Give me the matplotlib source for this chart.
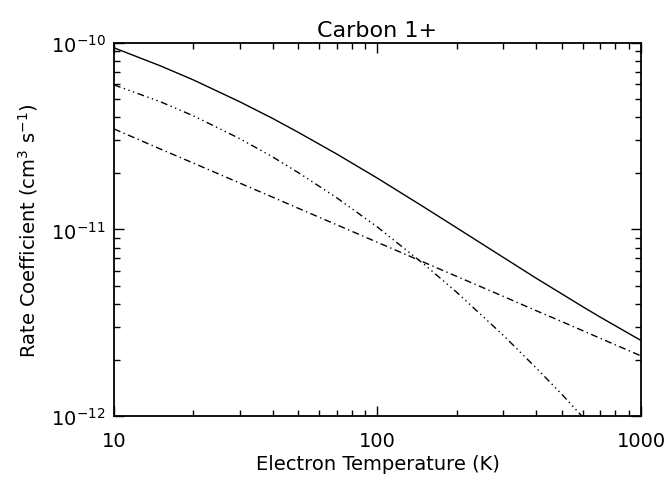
import numpy as np
import matplotlib
matplotlib.use("Agg")
import matplotlib.pyplot as plt
from matplotlib.ticker import NullFormatter

plt.rcParams['font.family'] = ['DejaVu Sans']
plt.rcParams['lines.scale_dashes'] = False

# electron temperature grid (K)
temp = [10, 15, 20, 30, 40, 50, 70, 100, 150, 200, 300, 400, 500, 600, 700, 1000]

# total rate (cm^3 s^-1)
rate_total = [9.42e-11, 7.54e-11, 6.34e-11, 4.84e-11, 3.94e-11, 3.32e-11,
              2.54e-11, 1.883e-11, 1.319e-11, 1.02e-11, 7.09e-12, 5.48e-12,
              4.52e-12, 3.86e-12, 3.39e-12, 2.54e-12]
# dash-dot component
rate_rr = [3.46e-11, 2.70e-11, 2.27e-11, 1.774e-11, 1.49e-11, 1.30e-11,
           1.06e-11, 8.53e-12, 6.67e-12, 5.60e-12, 4.38e-12, 3.67e-12,
           3.21e-12, 2.87e-12, 2.61e-12, 2.10e-12]
# dash-dot-dot-dot component
rate_dr = [5.96e-11, 4.84e-11, 4.07e-11, 3.07e-11, 2.45e-11, 2.02e-11,
           1.48e-11, 1.03e-11, 6.52e-12, 4.60e-12, 2.71e-12, 1.81e-12,
           1.31e-12, 9.9e-13, 7.8e-13, 4.36e-13]

fig = plt.figure(figsize=(6.70, 4.81), dpi=100)
ax = fig.add_axes([0.1701, 0.1331, 0.7866, 0.7755])

ax.plot(temp, rate_total, color='black', lw=1.0, linestyle='-')
ax.plot(temp, rate_dr, color='black', lw=1.0,
        linestyle=(0, (5, 2.5, 1, 2.5, 1, 2.5, 1, 2.5)))
ax.plot(temp, rate_rr, color='black', lw=1.0,
        linestyle=(0, (5, 2.5, 1, 2.5)))

ax.set_xscale('log')
ax.set_yscale('log')
ax.set_xlim(10, 1000)
ax.set_ylim(1e-12, 1e-10)

ax.set_xticks([10, 100, 1000])
ax.set_xticklabels(['10', '100', '1000'])
ax.xaxis.set_minor_formatter(NullFormatter())
ax.yaxis.set_minor_formatter(NullFormatter())

for s in ax.spines.values():
    s.set_linewidth(1.3)

ax.tick_params(which='both', direction='in', top=True, right=True, width=1.0)
ax.tick_params(which='major', length=7.5, labelsize=14)
ax.tick_params(axis='x', which='major', pad=11)
ax.tick_params(axis='y', which='major', pad=6)
ax.tick_params(which='minor', length=4)

ax.set_title('Carbon 1+', fontsize=16, pad=5)
ax.set_xlabel('Electron Temperature (K)', fontsize=14, labelpad=3)
ax.set_ylabel('Rate Coefficient (cm$^3$ s$^{-1}$)', fontsize=14, labelpad=8)

fig.savefig('out.png', dpi=100)
